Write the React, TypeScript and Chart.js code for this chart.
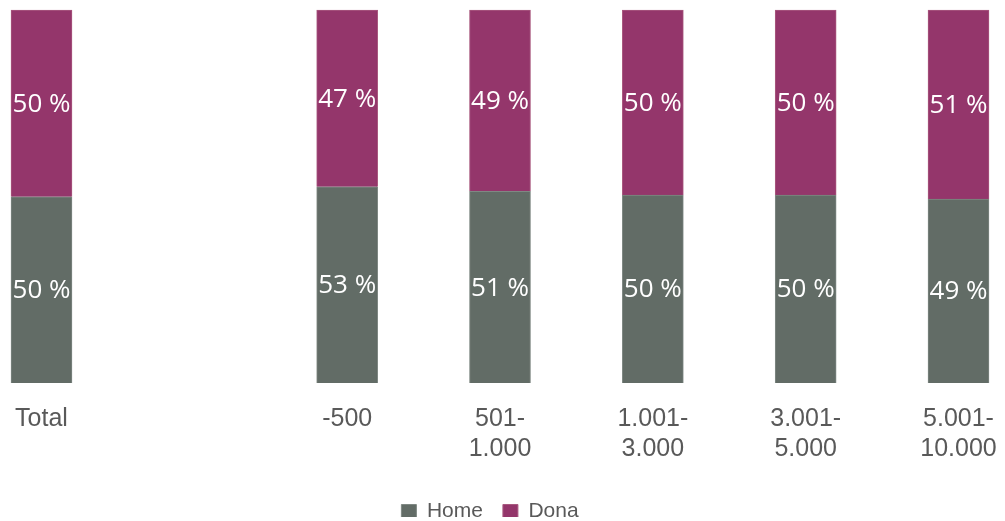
import React, { useEffect, useRef } from "react";
import { Chart, registerables } from "chart.js";

Chart.register(...registerables);

const categories: (string | string[])[] = [
  "Total",
  "",
  "-500",
  ["501-", "1.000"],
  ["1.001-", "3.000"],
  ["3.001-", "5.000"],
  ["5.001-", "10.000"],
];
const homeValues: (number | null)[] = [49.9, null, 52.6, 51.4, 50.4, 50.4, 49.3];
const donaValues: (number | null)[] = [50.1, null, 47.4, 48.6, 49.6, 49.6, 50.7];
const seriesNames = ["Home", "Dona"];
const seriesColors = ["#626c66", "#94366b"];
const seriesBorders = ["#7f8883", "#a9597f"];

const labelPlugin = {
  id: "segmentLabels",
  afterLayout(chart: any) {
    const lg = chart.legend;
    if (lg) {
      lg.top -= 4;
      lg.bottom -= 4;
      lg.left -= 10;
      lg.right -= 10;
    }
  },
  afterDatasetsDraw(chart: any) {
    const ctx = chart.ctx;
    ctx.save();
    ctx.font = "26px 'Open Sans'";
    ctx.fillStyle = "#ffffff";
    ctx.textAlign = "center";
    ctx.textBaseline = "middle";
    chart.data.datasets.forEach((ds: any, di: number) => {
      const meta = chart.getDatasetMeta(di);
      meta.data.forEach((el: any, i: number) => {
        const v = ds.data[i];
        if (v == null) return;
        const y = (el.y + el.base) / 2;
        ctx.fillText(Math.round(v) + " %", el.x, y + 1);
      });
    });
    ctx.restore();
  },
};

export default function App() {
  const ref = useRef<HTMLCanvasElement | null>(null);
  useEffect(() => {
    if (!ref.current) return;
    const chart = new Chart(ref.current, {
      type: "bar",
      data: {
        labels: categories,
        datasets: [
          {
            label: seriesNames[0],
            data: homeValues,
            backgroundColor: seriesColors[0],
            borderColor: seriesBorders[0],
            borderWidth: 1,
            barThickness: 61,
            clip: false,
          } as any,
          {
            label: seriesNames[1],
            data: donaValues,
            backgroundColor: seriesColors[1],
            borderColor: seriesBorders[1],
            borderWidth: 1,
            barThickness: 61,
            clip: false,
          } as any,
        ],
      },
      options: {
        animation: false,
        responsive: false,
        layout: { padding: { left: 41.5, right: 46.5, top: 10, bottom: 0 } },
        scales: {
          x: {
            stacked: true,
            offset: false,
            grid: { display: false, drawTicks: false },
            border: { display: false },
            afterFit: (scale: any) => {
              scale.paddingLeft = 0;
              scale.paddingRight = 0;
            },
            ticks: {
              color: "#595959",
              font: { family: "'Liberation Sans', Arial, sans-serif", size: 25, lineHeight: 1.2 },
              padding: 21,
              maxRotation: 0,
              autoSkip: false,
            },
          },
          y: {
            stacked: true,
            display: false,
            min: 0,
            max: 100,
          },
        },
        plugins: {
          tooltip: { enabled: false },
          legend: {
            position: "bottom",
            maxHeight: 36,
            labels: {
              color: "#595959",
              boxWidth: 15,
              boxHeight: 14,
              padding: 20,
              font: { family: "'Liberation Sans', Arial, sans-serif", size: 21 },
            },
          },
        },
      },
      plugins: [labelPlugin],
    });
    return () => chart.destroy();
  }, []);
  return (
    <div style={{ position: "fixed", left: 0, top: 0, width: 1005, height: 521, background: "#fff" }}>
      <canvas ref={ref} width={1005} height={521} />
    </div>
  );
}
